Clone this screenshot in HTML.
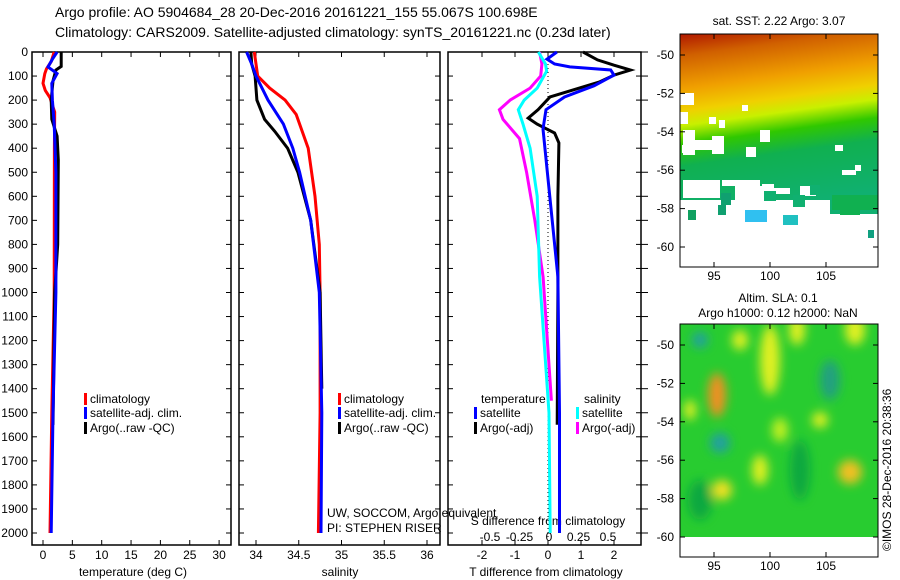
<!DOCTYPE html>
<html><head><meta charset="utf-8"><style>
body{margin:0;background:#fff;}
svg{display:block;font-family:"Liberation Sans",sans-serif;}
text{fill:#000;}
</style></head><body>
<svg id="s" width="900" height="580">
<defs>
<linearGradient id="sstg" x1="0" y1="0" x2="0.15" y2="1">
<stop offset="0" stop-color="#b01800"/><stop offset="0.12" stop-color="#d06000"/><stop offset="0.3" stop-color="#f0a000"/><stop offset="0.42" stop-color="#f0d000"/><stop offset="0.5" stop-color="#c8f000"/><stop offset="0.6" stop-color="#30c800"/><stop offset="0.72" stop-color="#10b050"/><stop offset="1" stop-color="#10b070"/>
</linearGradient>
<filter id="bl"><feGaussianBlur stdDeviation="5"/></filter>
<clipPath id="c2"><rect x="680" y="324" width="198" height="213"/></clipPath>
</defs>
<text x="55" y="17" font-size="14">Argo profile: AO 5904684_28 20-Dec-2016 20161221_155 55.067S 100.698E</text>
<text x="55" y="37" font-size="14">Climatology: CARS2009. Satellite-adjusted climatology: synTS_20161221.nc (0.23d later)</text>
<g id="g"></g>
</svg>
<script>
// depths (m)
const tClimD=[0,40,70,90,130,160,190,250,400,1000,1500,2000];
const tClimV=[1.9,1.4,0.6,0.3,0.0,0.4,1.2,2.0,1.95,1.9,1.5,1.2];
const tSatD=[0,30,62,90,130,200,300,500,1000,1500,2000];
const tSatV=[2.4,1.6,0.85,2.4,1.5,1.6,1.9,2.2,2.2,1.7,1.4];
const tArgD=[0,60,75,120,200,280,350,450,800,1000,1550];
const tArgV=[3.1,3.1,2.2,1.7,1.4,1.5,2.4,2.6,2.5,2.0,1.7];
const sClimD=[0,100,150,200,260,400,600,800,1000,1500,2000];
const sClimV=[33.98,34.02,34.16,34.34,34.47,34.61,34.69,34.74,34.75,34.75,34.73];
const sSatD=[0,50,100,200,300,400,500,700,1000,1500,2000];
const sSatV=[33.89,33.95,34.0,34.14,34.32,34.43,34.51,34.64,34.74,34.77,34.76];
const sArgD=[0,50,100,200,280,330,400,500,700,1000,1400];
const sArgV=[33.94,33.95,33.99,34.01,34.1,34.22,34.37,34.49,34.64,34.75,34.77];
const dtArgD=[0,33,55,75,96,125,187,240,275,300,337,378,600,1000,1550];
const dtArgV=[1.06,1.5,2.0,2.5,2.0,1.55,0.06,-0.3,-0.6,-0.33,0.2,0.33,0.3,0.3,0.28];
const dtSatD=[0,30,50,62,75,96,140,187,240,320,935,1500,2000];
const dtSatV=[0.27,-0.03,0.2,0.66,1.9,2.0,1.4,0.5,-0.06,-0.15,0.3,0.35,0.35];
const dsSatD=[0,50,80,150,200,240,300,400,600,935,1500,2000];
const dsSatV=[-0.09,-0.03,-0.02,-0.1,-0.21,-0.26,-0.22,-0.16,-0.1,-0.08,0.0,0.01];
const dsArgD=[0,50,100,150,200,240,280,360,500,700,935,1450];
const dsArgV=[-0.08,-0.06,-0.07,-0.16,-0.33,-0.42,-0.39,-0.25,-0.19,-0.12,-0.05,0.02];
const depthTicks=[0,100,200,300,400,500,600,700,800,900,1000,1100,1200,1300,1400,1500,1600,1700,1800,1900,2000];
const tTicks=[0,5,10,15,20,25,30];
const sTicks=[34,34.5,35,35.5,36];
const dtTicks=[-2,-1,0,1,2];
const dsTicks=[-0.5,-0.25,0,0.25,0.5];
const latTicks=[-50,-52,-54,-56,-58,-60];
const lonTicks=[95,100,105];

const NS='http://www.w3.org/2000/svg';
const G=document.getElementById('g');
function mk(t,a,p){const e=document.createElementNS(NS,t);for(const k in a)e.setAttribute(k,a[k]);(p||G).appendChild(e);return e;}
const yD=d=>52+d*0.2405;
const xT=v=>43+v*5.87, xS=v=>256+(v-34)*85.5, xDT=v=>548+v*33, xDS=v=>549+v*118;
const panels=[[32,231],[239,440],[448,641]];
panels.forEach((p,i)=>{
 const r=mk('rect',{x:p[0],y:52,width:p[1]-p[0],height:493,fill:'none',stroke:'#000','stroke-width':1.5});
 
 
 depthTicks.forEach(d=>{mk('line',{x1:p[0],x2:p[0]+5,y1:yD(d),y2:yD(d),stroke:'#000'});mk('line',{x1:p[1],x2:p[1]-5,y1:yD(d),y2:yD(d),stroke:'#000'});});
});
depthTicks.forEach(d=>{const t=mk('text',{x:28,y:yD(d)+4,'font-size':12,'text-anchor':'end'});t.textContent=d;
 
 
 mk('line',{x1:641,x2:648,y1:yD(d),y2:yD(d),stroke:'#000'});});
function xt(arr,f,y,p){arr.forEach(v=>{const x=f(v);mk('line',{x1:x,x2:x,y1:545,y2:540,stroke:'#000'});mk('line',{x1:x,x2:x,y1:52,y2:57,stroke:'#000'});const t=mk('text',{x:x,y:y,'font-size':12,'text-anchor':'middle'});t.textContent=v;
 
 });}
xt(tTicks,xT,559);xt(sTicks,xS,559);xt(dtTicks,xDT,559);
dsTicks.forEach(v=>{const t=mk('text',{x:xDS(v),y:541,'font-size':12,'text-anchor':'middle'});t.textContent=v;
 
 });
function lab(x,y,s,n,anc,fs){const t=mk('text',{x:x,y:y,'font-size':fs||12,'text-anchor':anc||'middle'});t.textContent=s;
 
 return t;}
lab(133,576,'temperature (deg C)','x-axis-title-temperature');
lab(340,576,'salinity','x-axis-title-salinity');
lab(546,576,'T difference from climatology','x-axis-title-t-diff');
lab(548,525,'S difference from climatology','x-axis-title-s-diff');
lab(327,517,'UW, SOCCOM, Argo equivalent','institution-note','start');
lab(327,532,'PI: STEPHEN RISER','pi-note','start');
mk('line',{x1:548,x2:548,y1:52,y2:545,stroke:'#000','stroke-dasharray':'1,3'});
function line(D,V,f,c,n){const pts=D.map((d,i)=>f(V[i]).toFixed(1)+','+yD(d).toFixed(1)).join(' ');
 const e=mk('polyline',{points:pts,fill:'none',stroke:c,'stroke-width':3});
 
 }
line(tClimD,tClimV,xT,'#f00','temp-climatology-line');
line(tArgD,tArgV,xT,'#000','temp-argo-line');
line(tSatD,tSatV,xT,'#00f','temp-satellite-line');
line(sClimD,sClimV,xS,'#f00','sal-climatology-line');
line(sArgD,sArgV,xS,'#000','sal-argo-line');
line(sSatD,sSatV,xS,'#00f','sal-satellite-line');
line(dsArgD,dsArgV,xDS,'#f0f','sdiff-argo-line');
line(dsSatD,dsSatV,xDS,'#0ff','sdiff-satellite-line');
line(dtArgD,dtArgV,xDT,'#000','tdiff-argo-line');
line(dtSatD,dtSatV,xDT,'#00f','tdiff-satellite-line');
function leg(x,y,c,s,n){const r=mk('rect',{x:x,y:y-10,width:3,height:12,fill:c});
 
 
 lab(x+6,y,s,n,'start');}
leg(84,403,'#f00','climatology','legend-climatology');
leg(84,417,'#00f','satellite-adj. clim.','legend-satellite-adj');
leg(84,432,'#000','Argo(..raw -QC)','legend-argo');
leg(338,403,'#f00','climatology','legend2-climatology');
leg(338,417,'#00f','satellite-adj. clim.','legend2-satellite-adj');
leg(338,432,'#000','Argo(..raw -QC)','legend2-argo');
lab(481,403,'temperature','legend-temperature-heading','start');
leg(474,417,'#00f','satellite','legend-t-satellite');
leg(474,432,'#000','Argo(-adj)','legend-t-argo');
lab(584,403,'salinity','legend-salinity-heading','start');
leg(576,417,'#0ff','satellite','legend-s-satellite');
leg(576,432,'#f0f','Argo(-adj)','legend-s-argo');

// maps
const m1=mk('rect',{x:680,y:34,width:198,height:233,fill:'#fff',stroke:'#000'});


mk('rect',{x:680,y:34,width:198,height:180,fill:'url(#sstg)'});
// white gaps (missing data)
[[680,93,14,12],[680,112,8,12],[682,145,10,8],[683,130,12,25],[690,140,30,10],[712,136,12,18],[719,120,6,8],[742,105,6,6],[760,130,10,12],[709,117,7,7],[762,184,12,8],[746,147,10,10],[683,180,37,18],[722,180,38,6],[735,186,30,30],[770,188,20,6],[800,186,16,10],[842,170,14,5],[855,165,6,6],[835,145,8,6]].forEach(a=>mk('rect',{x:a[0],y:a[1],width:a[2],height:a[3],fill:'#fff'}));
mk('rect',{x:680,y:200,width:150,height:67,fill:'#fff'});
mk('rect',{x:830,y:214,width:48,height:53,fill:'#fff'});
[[832,195,46,15,'#10b050'],[840,205,20,10,'#10b050'],[718,205,8,10,'#10a070'],[745,210,22,12,'#30c0f0'],[783,215,15,10,'#20c0c0'],[721,193,10,12,'#10a070'],[688,210,8,10,'#10a060'],[868,230,6,8,'#10a080'],[793,195,12,12,'#10b070'],[764,191,12,10,'#10b070'],[810,185,10,10,'#10b070']].forEach(a=>mk('rect',{x:a[0],y:a[1],width:a[2],height:a[3],fill:a[4]}));
mk('rect',{x:680,y:34,width:198,height:233,fill:'none',stroke:'#000'});
const m2=mk('rect',{x:680,y:324,width:198,height:233,fill:'#fff',stroke:'#000'});


const bg=mk('g',{'clip-path':'url(#c2)'});
mk('rect',{x:680,y:324,width:198,height:213,fill:'#28cc30'},bg);
const bl=mk('g',{filter:'url(#bl)'},bg);
[[717,395,9,22,'#f09020'],[770,360,10,35,'#e0f020'],[797,330,8,15,'#e0f020'],[720,443,10,10,'#20a0a0'],[850,472,12,12,'#f0c020'],[722,490,10,10,'#f0e020'],[780,430,8,12,'#c0f020'],[820,420,8,8,'#e0f020'],[700,340,8,8,'#20a0a0'],[740,340,8,10,'#e0f020'],[830,380,10,20,'#20a080'],[760,470,8,15,'#e0f020'],[690,410,6,10,'#e0f020'],[855,330,10,15,'#e0f020'],[800,470,10,30,'#10a840'],[700,500,12,20,'#10a840']].forEach(a=>mk('ellipse',{cx:a[0],cy:a[1],rx:a[2],ry:a[3],fill:a[4]},bl));
mk('rect',{x:680,y:324,width:198,height:233,fill:'none',stroke:'#000'});
function mapAx(top,latY,name){latTicks.forEach(l=>{const y=latY(l);mk('line',{x1:680,x2:685,y1:y,y2:y,stroke:'#000'});mk('line',{x1:878,x2:873,y1:y,y2:y,stroke:'#000'});const t=lab(674,y+4,l,name+'-lat-label','end');t.setAttribute('font-size','12');});
 lonTicks.forEach(o=>{const x=714+(o-95)*11.2;mk('line',{x1:x,x2:x,y1:top,y2:top+5,stroke:'#000'});mk('line',{x1:x,x2:x,y1:top+233,y2:top+228,stroke:'#000'});lab(x,top+246,o,name+'-lon-label');});}
mapAx(34,l=>55+(-50-l)*19.2,'sst-map');
mapAx(324,l=>345+(-50-l)*19.2,'sla-map');
lab(779,25,'sat. SST: 2.22 Argo: 3.07','sst-map-title');
lab(778,302,'Altim. SLA: 0.1','sla-map-title');
lab(778,317,'Argo h1000: 0.12 h2000: NaN','sla-map-subtitle');
const c=lab(0,0,'©IMOS 28-Dec-2016 20:38:36','imos-credit','start');
c.setAttribute('transform','translate(891,551) rotate(-90)');
</script>
</body></html>
